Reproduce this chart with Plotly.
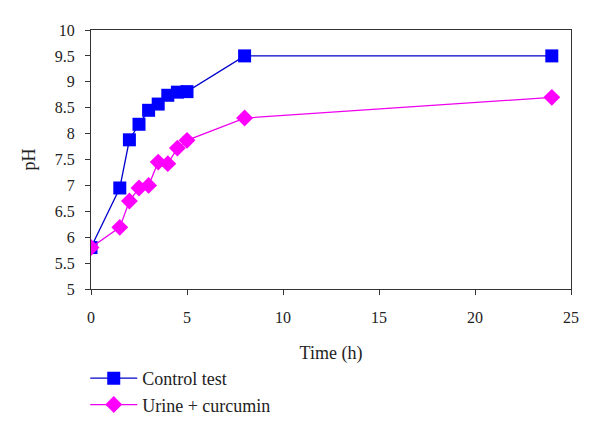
import plotly.graph_objects as go

time_h = [0, 1.5, 2, 2.5, 3, 3.5, 4, 4.5, 5, 8, 24]
control_ph = [5.8, 6.95, 7.88, 8.18, 8.45, 8.57, 8.74, 8.8, 8.81, 9.5, 9.5]
curcumin_ph = [5.8, 6.19, 6.7, 6.95, 7.0, 7.45, 7.42, 7.72, 7.87, 8.3, 8.7]

font = "'Liberation Serif', 'Times New Roman', serif"

fig = go.Figure()
fig.add_trace(go.Scatter(
    x=time_h, y=control_ph, name="Control test", mode="lines+markers",
    line=dict(color="#0000cc", width=1.3),
    marker=dict(symbol="square", size=13, color="#0000ff"),
))
fig.add_trace(go.Scatter(
    x=time_h, y=curcumin_ph, name="Urine + curcumin", mode="lines+markers",
    line=dict(color="#ee00ee", width=1.3),
    marker=dict(symbol="diamond", size=13, color="#ff00ff"),
))

axis_common = dict(
    showgrid=False, zeroline=False, showline=True, linecolor="#333333",
    linewidth=1.3, mirror=True, ticks="outside", ticklen=5, tickcolor="#333333",
    tickfont=dict(family=font, size=16, color="#222222"),
)

# page body has an 8px margin, so margins are shifted to compensate
fig.update_layout(
    width=600, height=435,
    margin=dict(l=83, r=37, t=22, b=154),
    plot_bgcolor="white", paper_bgcolor="white",
    font=dict(family=font, size=16, color="#222222"),
    xaxis=dict(range=[0, 25], dtick=5, ticklabelstandoff=9,
               title=dict(text="Time (h)", font=dict(family=font, size=18), standoff=21),
               **axis_common),
    yaxis=dict(range=[5, 10], dtick=0.5, ticklabelstandoff=7,
               title=dict(text="pH", font=dict(family=font, size=18), standoff=14),
               **axis_common),
    legend=dict(x=-0.012, y=-0.274, xanchor="left", yanchor="top",
                font=dict(family=font, size=18), tracegroupgap=0,
                itemwidth=47, bgcolor="rgba(0,0,0,0)"),
    showlegend=True,
)

fig.write_html("out.html")
